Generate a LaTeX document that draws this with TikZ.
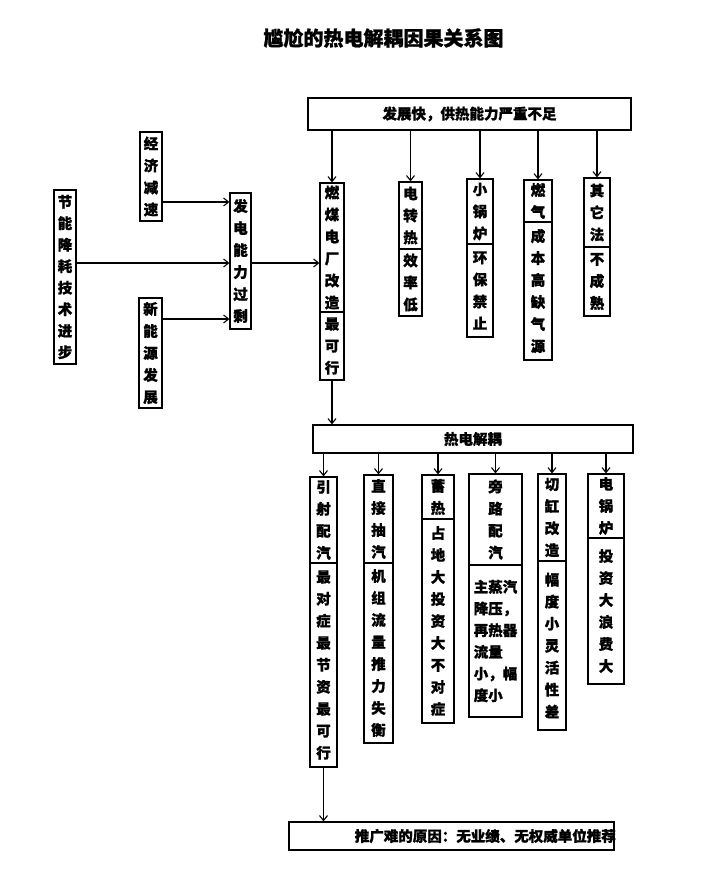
\documentclass[tikz,border=0pt]{standalone}
\usepackage{fontspec}
\setmainfont{Noto Sans CJK SC}[BoldFeatures={FakeBold=1.2}]
\usetikzlibrary{arrows.meta}
\tikzset{
  box/.style={draw, line width=1.2pt, inner sep=0pt, align=center,
    font=\bfseries\fontsize{14.5}{22}\selectfont},
  arr/.style={line width=1.1pt, -{Straight Barb[length=5pt,width=8pt]}},
  lbl/.style={inner sep=0pt, font=\bfseries\fontsize{14.5}{22}\selectfont}
}
\begin{document}
\begin{tikzpicture}[x=1pt,y=-1pt]
\useasboundingbox (0,0) rectangle (714,881);
% title
\node[inner sep=0pt, font=\bfseries\fontsize{20}{24}\selectfont] (title) at (383.5,38) {尴尬的热电解耦因果关系图};

% top box
\node[box, minimum width=323pt, minimum height=32pt] (top) at (469.5,114) {发展快，供热能力严重不足};

% left part
\node[box, minimum width=22pt, minimum height=89pt] (jj) at (151,176.5) {经\\济\\减\\速};
\node[box, minimum width=22pt, minimum height=174pt, font=\bfseries\fontsize{14.5}{21.5}\selectfont] (jn) at (65,277) {节\\能\\降\\耗\\技\\术\\进\\步};
\node[box, minimum width=23pt, minimum height=110pt] (xn) at (150.5,353) {新\\能\\源\\发\\展};
\node[box, minimum width=21pt, minimum height=136pt] (fd) at (240.5,261) {发\\电\\能\\力\\过\\剩};

% top row columns
\node[box, minimum width=24pt, minimum height=129pt] (rm1) at (332,247.5) {燃\\煤\\电\\厂\\改\\造};
\node[box, minimum width=24pt, minimum height=68pt] (rm2) at (332,346) {最\\可\\行};
\node[box, minimum width=23pt, minimum height=67pt] (dz1) at (410.5,215.5) {电\\转\\热};
\node[box, minimum width=23pt, minimum height=67pt] (dz2) at (410.5,282.5) {效\\率\\低};
\node[box, minimum width=26pt, minimum height=65pt] (xg1) at (480,211.5) {小\\锅\\炉};
\node[box, minimum width=26pt, minimum height=93pt] (xg2) at (480,290.5) {环\\保\\禁\\止};
\node[box, minimum width=28pt, minimum height=42pt] (rq1) at (538,201) {燃\\气};
\node[box, minimum width=28pt, minimum height=138pt] (rq2) at (538,291) {成\\本\\高\\缺\\气\\源};
\node[box, minimum width=26pt, minimum height=69pt] (qt1) at (597,212.5) {其\\它\\法};
\node[box, minimum width=26pt, minimum height=69pt] (qt2) at (597,281.5) {不\\成\\熟};

% arrows from top box
\foreach \n in {rm1,dz1,xg1,rq1,qt1}
  \draw[arr] (\n.north |- top.south) -- (\n.north);

% left arrows
\draw[arr] (jj.east |- 0,202) -- (fd.west |- 0,202);
\draw[arr] (jn.east |- 0,263) -- (fd.west |- 0,263);
\draw[arr] (xn.east |- 0,319) -- (fd.west |- 0,319);
\draw[arr] (fd.east |- 0,263) -- (rm1.west |- 0,263);

% middle box
\node[box, minimum width=320pt, minimum height=28pt] (rd) at (473,439) {热电解耦};
\draw[arr] (rm2.south) -- (rm2.south |- rd.north);

% bottom row columns
\node[box, minimum width=27pt, minimum height=86pt] (c1a) at (323.5,520) {引\\射\\配\\汽};
\node[box, minimum width=27pt, minimum height=204pt] (c1b) at (323.5,665) {最\\对\\症\\最\\节\\资\\最\\可\\行};
\node[box, minimum width=29pt, minimum height=88pt] (c2a) at (378.5,519) {直\\接\\抽\\汽};
\node[box, minimum width=29pt, minimum height=180pt] (c2b) at (378.5,653) {机\\组\\流\\量\\推\\力\\失\\衡};
\node[box, minimum width=32pt, minimum height=44pt] (c3a) at (438,497) {蓄\\热};
\node[box, minimum width=32pt, minimum height=204pt] (c3b) at (438,621) {占\\地\\大\\投\\资\\大\\不\\对\\症};
\node[box, minimum width=53pt, minimum height=91pt] (c4a) at (495.5,519.5) {旁\\路\\配\\汽};
\node[box, minimum width=53pt, minimum height=152pt, align=left, font=\bfseries\fontsize{14.5}{21.7}\selectfont] (c4b) at (495.5,641) {主蒸汽\\降压，\\再热器\\流量\\小，幅\\度小};
\node[box, minimum width=28pt, minimum height=87pt] (c5a) at (552,517.5) {切\\缸\\改\\造};
\node[box, minimum width=28pt, minimum height=169pt] (c5b) at (552,645.5) {幅\\度\\小\\灵\\活\\性\\差};
\node[box, minimum width=36pt, minimum height=64pt] (c6a) at (606,506) {电\\锅\\炉};
\node[box, minimum width=36pt, minimum height=146pt] (c6b) at (606,611) {投\\资\\大\\浪\\费\\大};

\foreach \n in {c1a,c2a,c3a,c4a,c5a,c6a}
  \draw[arr] (\n.north |- rd.south) -- (\n.north);

% bottom box
\node[box, minimum width=325pt, minimum height=28pt] (tj) at (451.5,836) {};
\node[lbl, anchor=east] (tjt) at (616,836) {推广难的原因：无业绩、无权威单位推荐};
\draw[arr] (c1b.south) -- (c1b.south |- tj.north);
\end{tikzpicture}
\end{document}
